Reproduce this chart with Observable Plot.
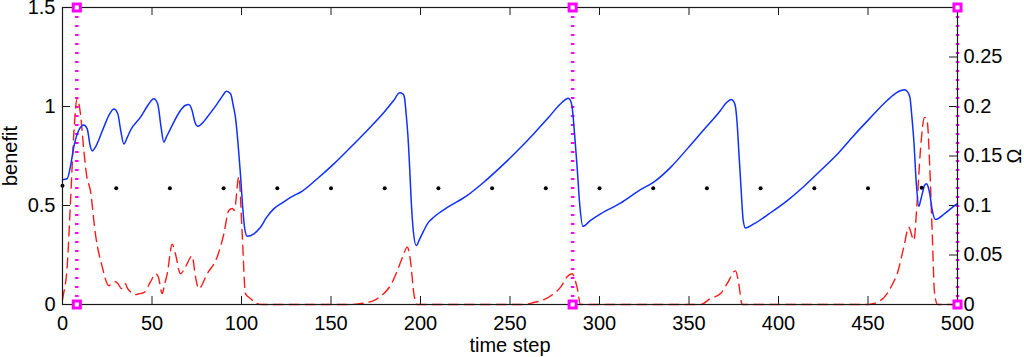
<!DOCTYPE html>
<html>
<head>
<meta charset="utf-8">
<script src="https://cdn.jsdelivr.net/npm/d3@7"></script>
<script src="https://cdn.jsdelivr.net/npm/@observablehq/plot@0.6"></script>
<style>
  html, body { margin: 0; padding: 0; background: #fff; }
  #chart svg { display: block; }
</style>
</head>
<body>
<div id="chart"></div>
<script>
// ---- data ----
const xTicks = [0, 50, 100, 150, 200, 250, 300, 350, 400, 450, 500];
const benefitTicks = [0, 0.5, 1, 1.5];
const omegaTicks = [0, 0.05, 0.1, 0.15, 0.2, 0.25, 0.3];
const omegaLabelTicks = [0, 0.05, 0.1, 0.15, 0.2, 0.25];
const omegaToBenefit = 5; // right axis 0..0.3 maps onto left axis 0..1.5

// blue solid: benefit
const benefitT = [0,2.6,4.5,6.3,9.1,11.9,13.8,15.5,16.6,18.4,23.1,26.5,28.7,30.9,32.5,34.3,36,38,43.6,48,51,53.2,55,56.6,58,60.3,65.9,68.5,70.6,72.4,74,75.6,78,80.8,86.4,89.5,91.6,93.9,95.5,96.6,98,99.4,100.6,101.7,103.2,106.9,110.6,114,118,123,129.2,133,142.3,151.6,160,170.2,180,185,188.4,190,191,192,192.9,194,194.8,196,197.6,199.5,201.9,204,207.4,215,226,235,244.7,254,263.3,272,279,282.5,284,284.7,286,287.5,289,290.7,295,300.6,311.7,322.9,330.3,340,349,358,367.6,371,373.6,375,376,377,377.8,379,380.3,381.6,386.2,395,404.9,414,423.5,433,442.1,451,460.7,466,470.4,472,473.4,474.5,475.6,477,478.4,479.5,480.3,481.5,482.7,483.6,484.5,485.9,487.7,493,498.9,500];
const benefitV = [0.63,0.635,0.70,0.795,0.88,0.907,0.887,0.80,0.775,0.795,0.896,0.965,0.988,0.963,0.88,0.81,0.84,0.88,0.946,1.01,1.039,1.013,0.90,0.82,0.845,0.887,0.98,1.005,1.01,0.98,0.92,0.90,0.915,0.946,1.013,1.055,1.077,1.064,1.0,0.946,0.82,0.66,0.50,0.39,0.345,0.357,0.39,0.44,0.483,0.515,0.55,0.567,0.635,0.71,0.785,0.879,0.975,1.03,1.069,1.065,1.047,0.96,0.862,0.68,0.525,0.37,0.298,0.33,0.374,0.41,0.441,0.49,0.55,0.615,0.694,0.775,0.862,0.95,1.02,1.042,1.025,0.997,0.87,0.694,0.50,0.395,0.425,0.458,0.512,0.58,0.618,0.695,0.786,0.88,0.98,1.02,1.035,1.025,0.997,0.90,0.778,0.60,0.424,0.386,0.407,0.46,0.525,0.595,0.677,0.76,0.854,0.94,1.03,1.07,1.084,1.075,1.047,0.95,0.828,0.61,0.495,0.53,0.559,0.60,0.61,0.595,0.559,0.475,0.429,0.46,0.503,0.51];

// red dashed: Omega (right axis)
const omegaT = [0,0.4,2.6,4.5,6.3,8.2,10,11.9,13.5,15.6,18.4,22.2,25.9,27.5,29.6,31,33,35.2,36.1,38.5,40.8,43,45.4,49.2,52,53.5,55.7,57,58.5,61.3,63.1,65.9,68.7,72.4,74.3,76.1,80.8,86.4,90.1,92.9,94.8,96,98.5,100.4,102.2,105,108.7,112,160,170.2,175,179.5,183.5,187,190,192.6,194.4,196.3,198.1,258,263.3,269,274.5,278.5,281.9,284.7,287.5,289.4,356.4,362,367.6,371.3,376,377.8,379.7,450,453.3,457,460.7,463.5,466.3,470,472.8,475.6,477.5,479.3,481.6,483,484.5,485.9,487.2,488.9,500];
const omegaV = [0.005,0.009,0.038,0.105,0.172,0.208,0.193,0.156,0.13,0.115,0.071,0.038,0.019,0.021,0.023,0.021,0.016,0.021,0.017,0.012,0.01,0.011,0.012,0.023,0.031,0.028,0.011,0.02,0.031,0.061,0.051,0.031,0.038,0.049,0.028,0.016,0.031,0.048,0.071,0.095,0.097,0.095,0.129,0.071,0.011,0.006,0.001,0,0,0.002,0.005,0.011,0.02,0.034,0.048,0.058,0.044,0.011,0,0,0.002,0.005,0.011,0.018,0.028,0.031,0.017,0,0,0.006,0.011,0.021,0.034,0.021,0,0,0.001,0.004,0.011,0.02,0.031,0.058,0.078,0.065,0.105,0.156,0.189,0.186,0.139,0.071,0.011,0,0];

// black dots
const dotT = [0,30,60,90,120,150,180,210,240,270,300,330,360,390,420,450,480];
const dotV = [0.6,0.587,0.587,0.587,0.587,0.587,0.587,0.587,0.587,0.587,0.587,0.587,0.587,0.587,0.587,0.587,0.59];

// magenta markers
const markerT = [8, 285, 500];
const markerEnds = [0, 1.5];

// ---- build tables ----
const benefitData = benefitT.map((t, i) => ({t, v: benefitV[i]}));
const omegaData = omegaT.map((t, i) => ({t, v: omegaV[i] * omegaToBenefit}));
const dotData = dotT.map((t, i) => ({t, v: dotV[i]}));
const squareData = markerT.flatMap(t => markerEnds.map(v => ({t, v})));

const W = 1024, H = 357;
const mL = 62, mR = 67, mT = 7, mB = 53;
const fw = W - mL - mR, fh = H - mT - mB;
const tickLen = 8;
const ink = "#1a1a1a";
const fmt = d => String(+d.toFixed(2));

const chart = Plot.plot({
  width: W,
  height: H,
  marginLeft: mL, marginRight: mR, marginTop: mT, marginBottom: mB,
  style: {fontFamily: "'Liberation Sans', Arial, sans-serif", fontSize: "20px", color: "#000", background: "#fff"},
  x: {domain: [0, 500]},
  y: {domain: [0, 1.5]},
  marks: [
    // inward ticks
    Plot.tickX(xTicks, {x: d => d, insetBottom: fh - tickLen, stroke: ink, strokeWidth: 1}),
    Plot.tickX(xTicks, {x: d => d, insetTop: fh - tickLen, stroke: ink, strokeWidth: 1}),
    Plot.tickY(benefitTicks, {y: d => d, insetRight: fw - tickLen, stroke: ink, strokeWidth: 1}),
    Plot.tickY(omegaTicks, {y: d => d * omegaToBenefit, insetLeft: fw - tickLen, stroke: ink, strokeWidth: 1}),
    // tick labels
    Plot.axisX({ticks: xTicks, tickSize: 0, tickPadding: 11, tickFormat: d => String(d), label: null, anchor: "bottom", fontSize: 20}),
    Plot.axisY({ticks: benefitTicks, tickSize: 0, tickPadding: 7, tickFormat: fmt, label: null, anchor: "left", fontSize: 20}),
    Plot.axisY({ticks: omegaLabelTicks.map(d => d * omegaToBenefit), tickSize: 0, tickPadding: 6,
                tickFormat: d => fmt(d / omegaToBenefit), label: null, anchor: "right", fontSize: 20}),
    // magenta dotted verticals
    Plot.ruleX(markerT, {x: d => d, stroke: "#ff00ff", strokeWidth: 3.5, strokeDasharray: "2,7"}),
    // red dashed Omega
    Plot.line(omegaData, {x: "t", y: "v", stroke: "#ff1a1a", strokeWidth: 1.4, strokeDasharray: "10,6", curve: "monotone-x"}),
    // blue benefit
    Plot.line(benefitData, {x: "t", y: "v", stroke: "#1030ff", strokeWidth: 1.5, curve: "monotone-x"}),
    // black dots
    Plot.dot(dotData, {x: "t", y: "v", r: 2, fill: "#000", stroke: null}),
    // frame
    Plot.frame({stroke: ink, strokeWidth: 1.2}),
    // magenta squares
    Plot.dot(squareData, {x: "t", y: "v", symbol: "square", r: 4, stroke: "#ff00ff", strokeWidth: 3, fill: "#fff"}),
    // axis titles
    Plot.text(["benefit"], {text: d => d, frameAnchor: "left", dx: -52, rotate: -90, textAnchor: "middle", lineAnchor: "middle", fontSize: 20, fill: "#000"}),
    Plot.text(["Ω"], {text: d => d, frameAnchor: "right", dx: 57, rotate: -90, textAnchor: "middle", lineAnchor: "middle", fontSize: 20, fill: "#000"}),
    Plot.text(["time step"], {text: d => d, frameAnchor: "bottom", dy: 41, textAnchor: "middle", lineAnchor: "middle", fontSize: 20, fill: "#000"})
  ]
});
document.getElementById("chart").append(chart);
</script>
</body>
</html>
